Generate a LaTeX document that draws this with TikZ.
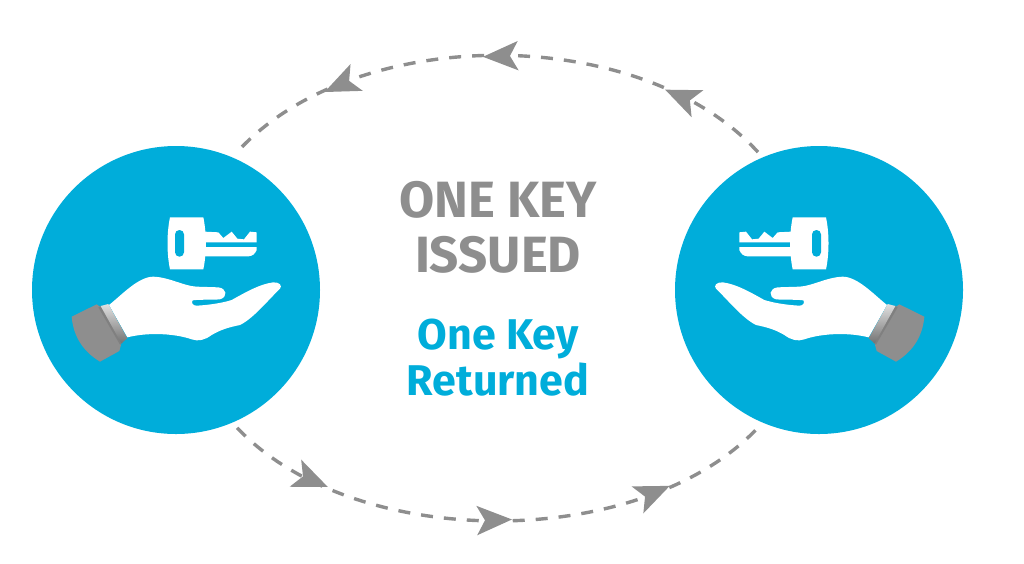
\documentclass[tikz,border=0pt]{standalone}
\usepackage{fontspec}
\setmainfont{Fira Sans}
\usetikzlibrary{arrows.meta,decorations.markings,shadings}
\definecolor{skyb}{HTML}{00ADDA}
\definecolor{greyc}{HTML}{8E8E8E}
\tikzset{
  disc/.style={circle,fill=skyb,minimum size=288pt,inner sep=0pt},
  flow/.style={draw=greyc,line width=3.4pt,dash pattern=on 12pt off 11pt,shorten >=7pt,shorten <=7pt},
  headglyph/.tip={Stealth[length=35pt,width=29pt,inset=8pt,color=greyc]},
  flowmarks/.style n args={3}{postaction={decorate,decoration={markings,
    mark=at position #1 with {\arrow[greyc]{headglyph}},
    mark=at position #2 with {\arrow[greyc]{headglyph}},
    mark=at position #3 with {\arrow[greyc]{headglyph}}}}},
  bigtxt/.style={text=greyc,font=\fontsize{51}{55}\selectfont\bfseries,align=center,inner sep=0pt},
  subtxt/.style={text=skyb,font=\fontsize{43}{46}\selectfont\bfseries,align=center,inner sep=0pt},
  handkey/.pic={
    \fill[white] (177,345) .. controls (215,315) and (265,260) .. (310,260)
      .. controls (360,262) and (400,288) .. (440,290) -- (505,292)
      .. controls (530,295) and (535,320) .. (510,328)
      .. controls (485,330) and (450,328) .. (428,331)
      .. controls (422,338) and (430,348) .. (440,347)
      .. controls (480,345) and (520,338) .. (545,330)
      .. controls (590,305) and (630,282) .. (670,277)
      .. controls (690,276) and (697,288) .. (690,296)
      .. controls (650,335) and (610,385) .. (570,405)
      .. controls (535,412) and (510,420) .. (485,435)
      .. controls (465,450) and (445,455) .. (425,448)
      .. controls (380,432) and (300,425) .. (232,442) -- cycle;
    \fill[greyc] (65,380) -- (140,343) -- (150,350) -- (213,465) -- (208,483) -- (150,515)
      .. controls (100,485) and (70,440) .. cycle;
    \fill[black!50] (145,352) -- (155,347) -- (218,458) -- (210,464) -- cycle;
    \shade[top color=white!88!black,bottom color=black!55] (152,348) -- (175,342) -- (232,445) -- (214,460) -- cycle;
    \fill[white] (360,82) -- (460,82) .. controls (470,130) and (470,190) .. (460,238)
      -- (360,238) .. controls (350,190) and (350,130) .. cycle;
    \fill[skyb,rounded corners=4.4pt] (375,120) rectangle (402,200);
    \fill[white] (465,125) -- (505,127) -- (520,144) -- (545,125) -- (562,146) -- (582,148) -- (600,125) -- (620,127) -- (620,157) -- (465,157) -- cycle;
    \fill[white] (465,171) -- (620,171) -- (620,180) .. controls (615,192) and (608,198) .. (595,199) -- (465,199) -- cycle;
  }
}
\begin{document}
\begin{tikzpicture}[x=1pt,y=-1pt]
\useasboundingbox (0,0) rectangle (1024,563);
\node[disc] (left) at (176,290) {};
\node[disc] (right) at (819,290) {};
\path[flow,flowmarks={0.205}{0.525}{0.805}] (right.113) .. controls (640,23) and (355,23) .. (left.67);
\path[flow,flowmarks={0.2}{0.525}{0.805}] (left.-67) .. controls (355,552) and (640,552) .. (right.-113);
\pic[xshift=50pt,yshift=-190pt,xscale=1/3,yscale=1/3] {handkey};
\pic[xshift=946pt,yshift=-190pt,xscale=-1/3,yscale=1/3] {handkey};
\node[bigtxt] (issued) at (498,227) {ONE KEY\\ISSUED};
\node[subtxt] (returned) at (498,358) {One Key\\Returned};
\end{tikzpicture}
\end{document}
